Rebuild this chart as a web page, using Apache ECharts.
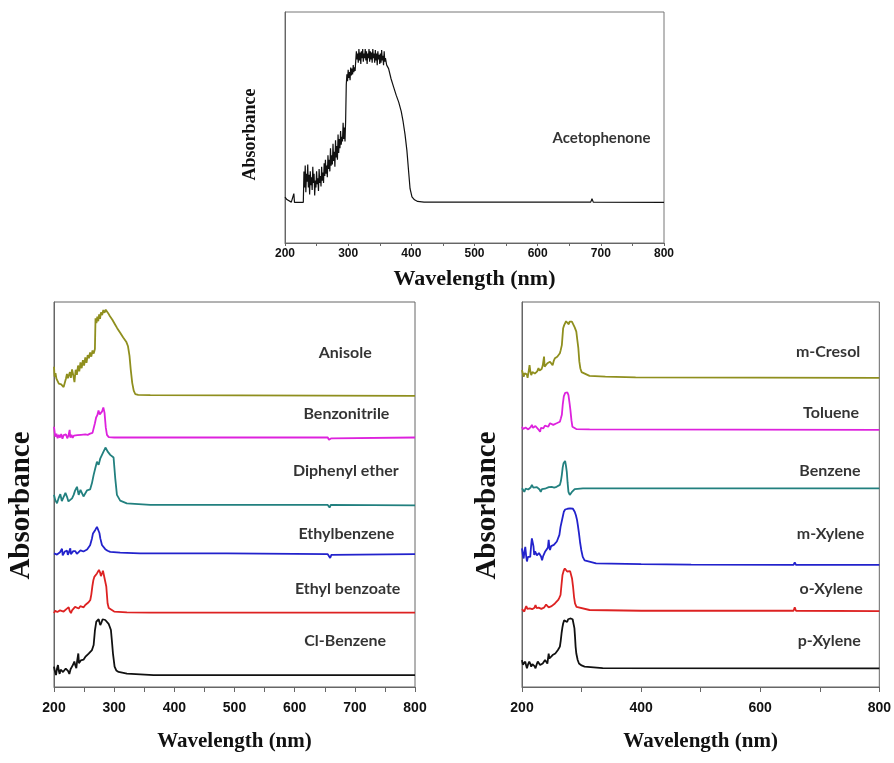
<!DOCTYPE html>
<html>
<head>
<meta charset="utf-8">
<script src="https://cdn.jsdelivr.net/npm/echarts@6/dist/echarts.min.js"></script>
<style>
html, body { margin: 0; padding: 0; background: #fff; }
#chart { width: 894px; height: 763px; }
</style>
</head>
<body>
<div id="chart"></div>
<script>
// 光谱数据：[波长 nm, 相对吸光度]（纵轴为任意单位，各曲线已错开）
const acetophenone = [[200,19.9],[203,18.8],[206,18],[210,17.7],[213,17.6],[214,21.4],[215,17.6],[229,17.6],[230,31],[231,24],[232,33.5],[233,22],[234,30],[235,26.5],[236,34],[237,24],[238,29.5],[239,21],[240,31],[241,25],[242,28.5],[243,23],[244,33],[245,26],[246,30],[247,20.6],[248,27],[249,24],[250,31],[251,25.5],[252,28],[253,22.5],[254,32],[255,26],[256,29],[257,24.5],[258,33],[259,27],[260,30.5],[261,26],[262,34.5],[263,29],[264,36],[265,30],[266,33.5],[267,28.5],[268,38],[269,32],[270,36],[271,31],[272,41],[273,33.5],[274,38],[275,34],[276,43],[277,35.5],[278,39.5],[279,33],[280,44.5],[281,37],[282,42],[283,36],[284,47],[285,39],[286,45],[287,41],[288,48.5],[289,42.5],[290,46],[291,44],[292,52],[293,45],[294,50],[295,44],[296,53],[297,68.5],[298,73],[299,70],[300,75],[301,71.5],[302,74],[303,70.5],[304,76],[305,72.5],[306,75.5],[307,73],[308,77],[309,74],[310,76],[311,74.5],[312,79],[313,83],[314,79.5],[315,82],[316,78],[317,84],[318,79],[319,82.5],[320,77.5],[321,83],[322,80],[323,84],[324,78.5],[325,82],[326,80],[327,84],[328,79],[329,83],[330,77.5],[331,82],[332,80],[333,84],[334,78.5],[335,83],[336,79.5],[337,82.5],[338,78],[339,84],[340,80],[341,82],[342,78],[343,83.5],[344,79],[345,82],[346,77],[347,83],[348,79.5],[349,81.5],[350,77.5],[351,82],[352,78],[353,83.5],[354,79],[355,81],[356,77],[357,83],[358,78.5],[359,80],[361,77],[364,75.5],[368,71],[372,67.5],[376,64],[380,61],[384,57],[387,52.5],[390,47],[393,40],[396,30],[398,23.5],[401,20],[405,18.7],[410,18],[420,17.7],[515,17.7],[517,18.5],[519,17.7],[610,17.7],[612,18],[614,17.7],[684,17.7],[686,19.2],[688,17.7],[800,17.6]];

const topNames = ['Acetophenone'];
const topLabelAt = [[701, 45.6]];

// 左下图
const anisole = [[200,83.2],[201,80.6],[202.5,81.5],[204,80.1],[206,79.6],[208,78.8],[210,79.3],[212,78.6],[214,78.2],[216,77.9],[218,78.4],[220,80.2],[221.5,81.3],[223,80.2],[225,79.8],[226.5,81.8],[228,80.3],[230,82.5],[232,81],[234,79.2],[236,82.4],[238,81.1],[240,83.5],[242,82],[244,84.3],[246,82.8],[248,84.9],[250,83.5],[252,85.6],[254,84.2],[256,86.2],[258,85.4],[260,86.9],[262,85.8],[264,87.4],[266,86.6],[268,87.8],[269,95.8],[270.5,94.5],[272,96.2],[273.5,95],[275,96.8],[276.5,95.6],[278,97.3],[280,96.6],[282,97.9],[284,97.2],[286,98],[288,97.6],[290,97.1],[293,96.3],[297,95.4],[301,94.3],[305,93.2],[310,92],[315,90.8],[320,89.7],[323,88.5],[325.5,86],[327.5,82.5],[330,79],[332.5,77],[335,76.1],[340,75.9],[360,75.8],[800,75.6]];

const benzonitrile = [[200,67.6],[202,65],[204,65.8],[206,64.6],[208,65.5],[210,64.8],[212,65.7],[214,64.5],[216,65.4],[218,64.9],[220,65.6],[222,64.6],[224,65.3],[226,66.8],[227,64.8],[229,65.5],[231,64.7],[233,65.3],[236,64.9],[239,65.4],[242,65],[245,65.5],[248,65.2],[252,65.6],[256,65.5],[260,65.8],[264,66],[266,66.4],[268,68.5],[270,70],[272,70.6],[274,71.8],[276,70.8],[278,70.4],[280,71.6],[282,72.6],[284,71.2],[286,67.5],[288,65.5],[291,64.9],[300,64.8],[655,64.8],[657,64.2],[659,63.8],[661,64.6],[800,64.8]];

const diphenylEther = [[200,49.9],[202,48.6],[205,47.7],[208,49.2],[210.5,50.1],[213,48.3],[216,48.6],[219,50.4],[221.6,49.4],[224,48.2],[227,47.7],[230,49],[232.7,49.9],[235,51],[238.2,52],[241,49.9],[244,51.2],[246.5,50.7],[249,49.5],[252,49.9],[255,51.1],[257.6,51.6],[260,51.3],[263,52.9],[265.9,55.1],[268.6,56.8],[271.4,58.5],[274.2,57.7],[277,59.4],[279.7,59.9],[282.5,61.2],[285.8,62.2],[289,61.2],[293.5,60.3],[299,59.6],[301.8,54.2],[304.6,49.9],[310,48.4],[321,47.7],[360,47.3],[655,47.3],[658,46.6],[660,47.3],[800,47.2]];

const ethylbenzene = [[200,34.7],[203,35.1],[205,34.4],[207.7,34],[210,35],[213.3,35.9],[214.5,34.2],[216,34.3],[218,35.2],[221.6,35.4],[223,34.3],[224.4,34.7],[227.1,36],[228,34.5],[229.9,34.7],[232,35.3],[235.4,35.3],[238,34.6],[241,34.9],[244,35.5],[246.5,35.4],[249,35.2],[252,35.6],[255,35.7],[257.6,36],[260,36.8],[261.4,37.3],[263,38.5],[264.8,39.9],[266.5,40.4],[268.6,40.8],[270,41.2],[271.4,41.6],[272.8,41.4],[274.2,41.2],[275.5,40],[277,38.6],[279.7,36.9],[282,36.4],[285.2,35.8],[289,35.4],[293.5,35.1],[310,34.9],[343,34.7],[487,34.7],[488,35],[489,34.6],[655,34.5],[657,34.1],[659,33.5],[661,34.3],[800,34.5]];

const ethylBenzoate = [[200,19.2],[202,19.8],[203.9,20.2],[205.5,19.5],[207.7,19.3],[210,19.9],[213.3,20.4],[216,19.6],[218.8,19.8],[221,20.3],[224.4,20.7],[226,19.8],[228.2,19.2],[230,19.9],[232.7,20.2],[235,20.8],[238.2,20.7],[241,20.4],[243.7,21],[246,20.8],[249.3,20.7],[252,21.3],[254.8,21.7],[257.5,22],[260.3,22.6],[262,24],[263.7,26.1],[265.5,27.8],[267,28.6],[269,29],[271.4,29.5],[273,30],[274.7,30.4],[276.5,29.8],[278,28.8],[280,29.6],[281.4,30.2],[283,29.8],[284.7,29.7],[286.9,26.1],[289.1,21.7],[291,20.5],[293.5,20],[300,19.6],[321.2,19.4],[360,19.3],[800,19.3]];

const clBenzene = [[200,5.3],[201.5,4.1],[203.3,3.1],[205,4.8],[206.6,5.7],[208,4.2],[209.4,3.4],[211,4.5],[213.3,4.9],[215,3.9],[217.2,4],[219.5,4.8],[221.6,5.3],[223.5,4.1],[225.5,3.4],[227.5,4.6],[229.9,5.3],[232,5.9],[233.8,6.6],[235.5,5.6],[237.1,4.9],[238.5,6.8],[240.4,8.7],[241.5,6.2],[242.6,5.7],[244.5,6.9],[246.5,7.4],[249,7.1],[252,7.8],[255,8.1],[257.6,8.7],[260,8.9],[263.1,9.6],[265.9,10.9],[268.1,14.8],[270.3,17],[272,16.8],[274.2,17.6],[276.9,16.1],[279,16.8],[280.8,17.6],[283,17.2],[285.2,17.4],[288,17],[290.8,16.4],[292.5,15.7],[294.6,14.8],[296.5,11.5],[298,8.7],[300.7,5.3],[303.5,4.3],[307.4,3.9],[321.2,3.5],[365.5,3.1],[800,3.1]];

const leftNames = ['Anisole', 'Benzonitrile', 'Diphenyl ether', 'Ethylbenzene', 'Ethyl benzoate', 'Cl-Benzene'];
const leftLabelAt = [[684, 86.9], [686, 70.9], [685, 56.2], [686, 39.7], [688, 25.6], [684, 12]];

// 右下图
const mCresol = [[200,82.3],[202.8,80.6],[204.5,81.5],[206.6,81.9],[208,81.2],[209.4,80.3],[211,81.8],[212.7,83.6],[214,82],[215.5,81],[217.5,81.8],[219.4,82.1],[221.5,81.4],[223.2,81],[225.5,82],[227.7,82.8],[229.5,82.2],[231.5,81.7],[233,82.6],[234.8,83.5],[237,85.8],[238,83.2],[239.3,82.8],[241,83.6],[242.6,84.1],[245,83.8],[247,84.5],[249,84.1],[251.4,83.6],[253.5,84.8],[255.3,85.4],[257,85.2],[259.2,85.8],[261.5,86.2],[263.6,86.7],[265,87.5],[266.9,88.8],[269.1,93.2],[270.8,94],[272.4,94.5],[274,95],[275.8,95.3],[277,94.8],[278.5,94.2],[280,94.9],[281.8,95.3],[283.8,94.9],[285.7,94.5],[288.5,93.4],[291.2,92.3],[293,90],[294.6,88],[296.3,84.5],[297.9,82.8],[300,81.8],[302.3,81.3],[313.4,80.8],[340,80.6],[390.8,80.4],[800,80.3]];

const toluene = [[200,67.6],[202,67],[203.9,66.8],[206,67.4],[208.3,67.6],[210.5,66.9],[212.7,66.5],[214.5,67.5],[216.6,68.1],[218.5,67.3],[220.5,67.2],[222.5,67.8],[224.9,67.6],[227,67],[229,66.6],[230.4,66.3],[231.8,67.3],[233.2,67.6],[235,67],[235.9,67.2],[238.5,67.9],[241.5,68.1],[244,67.6],[247,68.5],[249.5,68.2],[252.5,68.1],[255,68.6],[258.1,68.5],[261,68.8],[263.6,68.9],[265.3,69.8],[266.9,70.7],[268.5,73.5],[270.2,75.5],[272.5,76.4],[274.7,76.7],[276.3,76.5],[278,75.8],[279.8,73.8],[281.3,71.9],[283,69.3],[284.6,67.6],[287,67.1],[291.2,67],[313.4,66.9],[800,66.8]];

const benzene = [[200,51.6],[202,51.1],[203.9,50.7],[206,51.5],[208.3,52],[210.5,51.3],[212.7,51.2],[214.5,51.8],[216.6,52.5],[219,51.8],[222.1,51.6],[225,51.9],[227.7,52],[229.5,51.3],[231.5,50.7],[233.5,51.4],[235.9,51.8],[238.5,51.5],[241.5,51.6],[245,51.9],[249.8,52],[254,51.8],[258.1,52],[261,52.2],[263.6,52.5],[265.3,53.5],[266.9,55.1],[268.3,57],[269.7,58.1],[271,58.6],[272.4,58.7],[273.8,57.5],[275.2,55.9],[276.6,53],[278,50.7],[280.2,49.9],[283.5,50.6],[288.5,51.4],[302.3,51.6],[800,51.6]];

const mXylene = [[200,36],[201.5,34.2],[202.8,33.4],[204,35],[205.5,36.4],[207,34],[208.3,32.6],[210,33.8],[211.1,34.3],[212.5,33.5],[213.8,33.8],[215.5,37],[216.6,38.6],[218.2,39],[219.3,36.5],[220.5,34.3],[222,35.2],[223.2,35.6],[225,34.2],[226.5,33.8],[228.5,34.8],[230.4,35.1],[232,33.9],[233.7,32.9],[235.5,34],[237,34.3],[239,35.2],[241.5,35.1],[243.5,36.2],[244.8,38.2],[246,36.3],[247,35.6],[249,36.6],[251.4,36.4],[253.5,36.9],[255.9,37.3],[258.5,37.8],[260.8,38.2],[262.8,39.5],[264.7,41.6],[266.9,42.1],[268.5,44.3],[270.2,45.5],[272.5,46.1],[274.7,46.6],[276.5,46.3],[278.5,46],[280.8,46.4],[283,46.7],[285.5,46.3],[288.5,45.5],[290.5,44.6],[292.4,43.4],[294,41.8],[295.7,39.9],[297.5,37.6],[299.5,35.6],[302,33.8],[305.1,32.9],[324.4,32.1],[400,31.9],[484,31.8],[485,32.3],[486,31.8],[656,31.7],[658,32.4],[660,31.7],[800,31.7]];

const oXylene = [[200,20.2],[202,19.9],[203.9,19.6],[205.5,20.4],[207.2,21],[209,20.3],[211.1,19.8],[213,20.4],[214.9,20.7],[217,20.2],[219.4,20],[221,20.6],[222.7,21.3],[224.5,20.5],[226,20.2],[228,20.6],[230.4,20.9],[232.5,20.3],[234.8,20],[236.8,20.6],[238.7,21],[240.5,21.4],[242.6,21.9],[243.8,21.1],[244.8,20.7],[247,20.9],[249.8,21],[252.5,21.4],[255.3,21.7],[258,22.1],[260.8,22.6],[262.8,23.2],[264.7,23.9],[266.3,26.5],[268,29.1],[270,30.2],[271.9,30.8],[273.8,30.4],[275.8,30],[277.5,30.2],[279.1,30.4],[280.8,30.1],[282.4,29.7],[284,28.2],[285.7,26.1],[287.3,23.5],[289,21.7],[291.5,20.8],[294,20.4],[313.4,20],[400,19.8],[656,19.8],[658,20.7],[660,19.8],[800,19.7]];

const pXylene = [[200,7],[201.5,5.8],[202.8,5.3],[204,6.2],[205.5,6.6],[207,5.6],[208.3,4.85],[210,5.8],[212.2,6.6],[214,6],[215.5,5.3],[217.5,5.9],[219.4,6.3],[221,5.4],[222.7,4.85],[224.5,5.8],[226.5,6.6],[228.5,6.1],[230.4,5.7],[232.5,6.2],[234.8,6.1],[236.8,6.6],[238.7,7],[240.5,6.5],[242.6,6.1],[243.8,7.5],[244.8,8.7],[246,7.4],[247,7],[249,7.7],[251.4,8.3],[253.5,8.5],[255.9,8.7],[258,9.1],[260.3,9.6],[263.6,10.5],[265,12],[266.4,13.9],[267.8,15.4],[269.1,16.5],[270.8,17.3],[272.4,17.8],[274,17.4],[275.8,16.9],[277.5,17.6],[279.1,18],[281,17.8],[283,17.8],[285,17.6],[286.8,17.4],[288,15.3],[289,13.1],[290,10.5],[291.2,8.7],[293.5,7],[295.7,6.1],[300,5.6],[305.1,5.3],[335.5,4.9],[800,4.85]];

const rightNames = ['m-Cresol', 'Toluene', 'Benzene', 'm-Xylene', 'o-Xylene', 'p-Xylene'];
const rightLabelAt = [[714, 87], [719, 71.1], [717, 56.2], [718, 39.7], [719, 25.6], [716, 12]];

const leftData = [anisole, benzonitrile, diphenylEther, ethylbenzene, ethylBenzoate, clBenzene];
const rightData = [mCresol, toluene, benzene, mXylene, oXylene, pXylene];
const colors = ['#8f8f1e', '#dd22dd', '#22807f', '#2222cc', '#dd2222', '#111111'];

const serif = "'Liberation Serif', 'Times New Roman', serif";
const sans = "'Liberation Sans', Arial, sans-serif";
const labelFont = "Lato, 'Open Sans', sans-serif";

function xAxisFor(grid, interval, big) {
    return {
        type: 'value', gridIndex: grid, min: 200, max: 800, interval: interval,
        axisLine: { show: true, lineStyle: { color: '#666', width: 1 } },
        axisTick: { show: true, inside: false, length: big ? 5 : 3, lineStyle: { color: '#666' } },
        minorTick: { show: true, splitNumber: 2, length: big ? 5 : 3, lineStyle: { color: '#666' } },
        splitLine: { show: false },
        axisLabel: big
            ? { margin: 14, color: '#111', fontFamily: sans, fontWeight: 'bold', fontSize: 14 }
            : { margin: 5, color: '#111', fontFamily: sans, fontWeight: 'bold', fontSize: 12 },
        name: 'Wavelength (nm)', nameLocation: 'middle', nameGap: big ? 44 : 25,
        nameTextStyle: { fontFamily: serif, fontWeight: 'bold', fontSize: big ? 21 : 22, color: '#111' }
    };
}

function yAxisFor(grid, big, gap) {
    return {
        type: 'value', gridIndex: grid, min: 0, max: 100,
        axisLine: { show: true, lineStyle: { color: '#666', width: 1 } },
        axisTick: { show: false }, axisLabel: { show: false }, splitLine: { show: false },
        name: 'Absorbance', nameLocation: 'middle', nameGap: gap,
        nameTextStyle: {
            fontFamily: serif, fontWeight: 'bold', fontSize: big ? 29 : 18, color: '#111',
            padding: big ? [0, 22, 0, 0] : [0, 14, 0, 0]
        }
    };
}

function labelSeries(names, at, axis, size) {
    return {
        type: 'scatter', xAxisIndex: axis, yAxisIndex: axis, symbolSize: 0, silent: true, z: 5,
        data: names.map((n, i) => ({ value: at[i], name: n })),
        label: {
            show: true, position: 'inside', formatter: p => p.name,
            fontFamily: labelFont, fontWeight: 'bold', fontSize: size, color: '#000'
        }
    };
}

const series = [{
    type: 'line', xAxisIndex: 0, yAxisIndex: 0, data: acetophenone, showSymbol: false,
    lineStyle: { color: '#111', width: 1.2 }, silent: true
}, labelSeries(topNames, topLabelAt, 0, 15)];

leftData.forEach((d, i) => series.push({
    type: 'line', xAxisIndex: 1, yAxisIndex: 1, data: d, showSymbol: false,
    lineStyle: { color: colors[i], width: 1.8 }, silent: true
}));
series.push(labelSeries(leftNames, leftLabelAt, 1, 16));

rightData.forEach((d, i) => series.push({
    type: 'line', xAxisIndex: 2, yAxisIndex: 2, data: d, showSymbol: false,
    lineStyle: { color: colors[i], width: 1.8 }, silent: true
}));
series.push(labelSeries(rightNames, rightLabelAt, 2, 16));

const chart = echarts.init(document.getElementById('chart'));
chart.setOption({
    animation: false,
    backgroundColor: '#fff',
    grid: [
        { left: 285, top: 12, width: 379, height: 231, show: true, borderColor: '#777', borderWidth: 1 },
        { left: 54, top: 302, width: 361, height: 385, show: true, borderColor: '#666', borderWidth: 1 },
        { left: 522, top: 302, width: 361, height: 385, show: true, borderColor: '#666', borderWidth: 1 }
    ],
    xAxis: [xAxisFor(0, 100, false), xAxisFor(1, 100, true), xAxisFor(2, 200, true)],
    yAxis: [yAxisFor(0, false, 26), yAxisFor(1, true, 18), yAxisFor(2, true, 20)],
    series: series
});
</script>
</body>
</html>
